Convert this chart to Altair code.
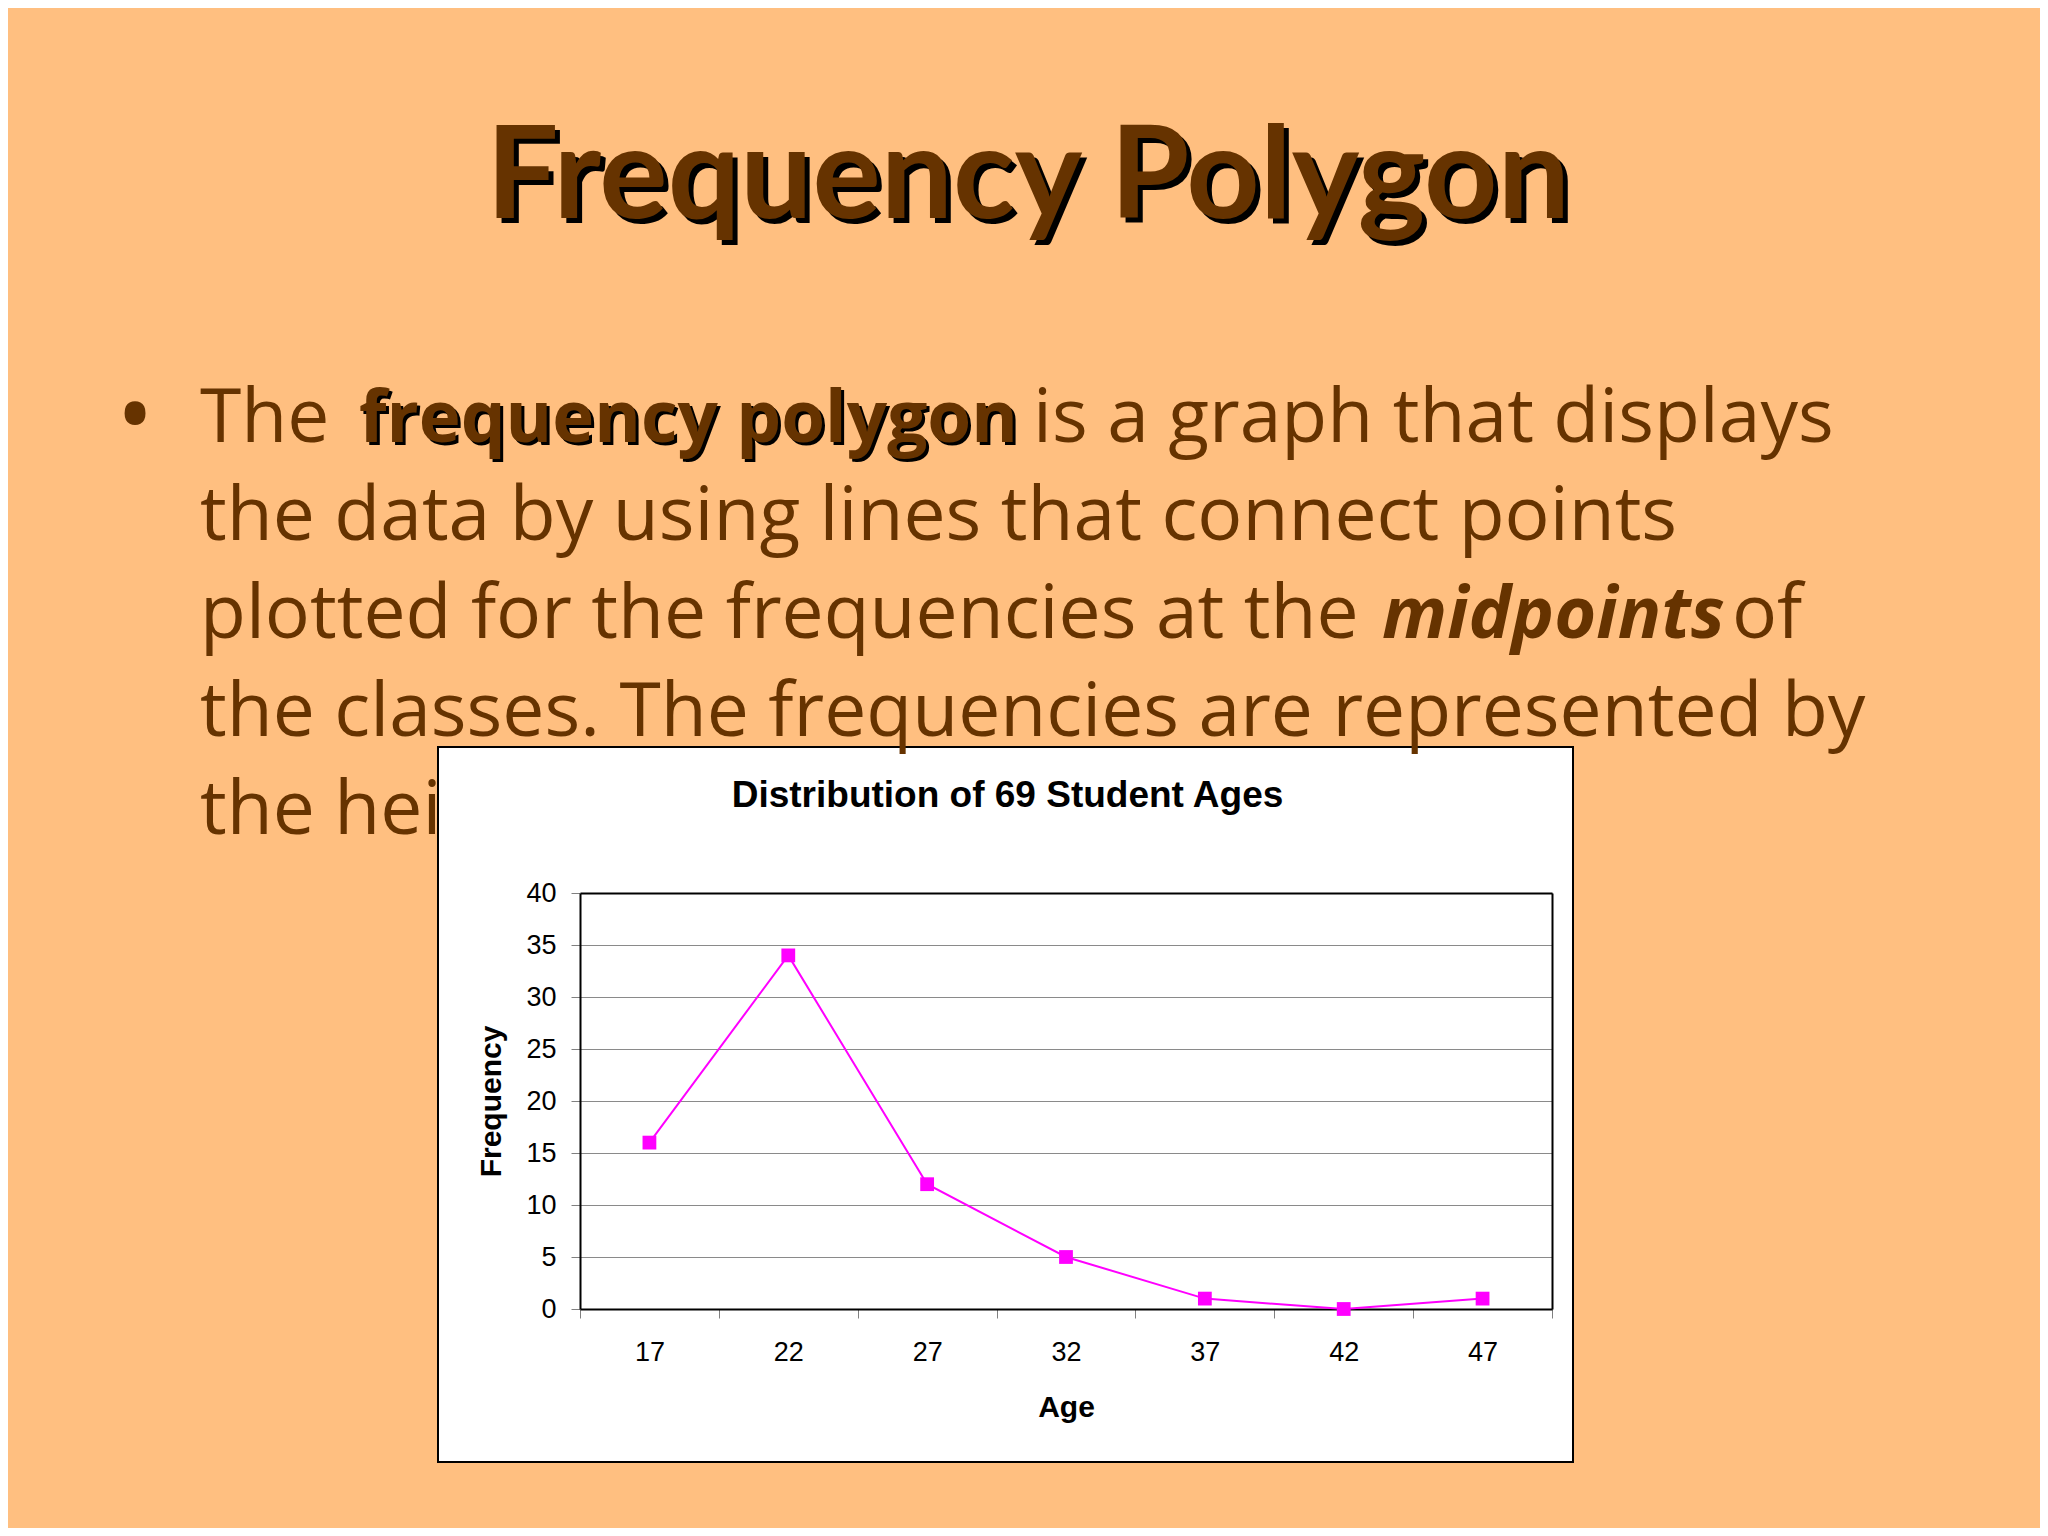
import altair as alt
import pandas as pd

# ---- data ----
ages = ["17", "22", "27", "32", "37", "42", "47"]
freqs = [16, 34, 12, 5, 1, 0, 1]
y_ticks = [0, 5, 10, 15, 20, 25, 30, 35, 40]

slide_title = "Frequency Polygon"
chart_title = "Distribution of 69 Student Ages"
x_title = "Age"
y_title = "Frequency"
bullet = "\u2022"
line1 = ["The", "frequency polygon", "is a graph that displays"]
line2 = "the data by using lines that connect points"
line3 = ["plotted for the frequencies at the", "midpoints", "of"]
line4 = "the classes. The frequencies are represented by"
line5 = "the heights of the points."

df = pd.DataFrame({"Age": ages, "Frequency": freqs})

BG = "#FFBF80"
BROWN = "#663300"
MAG = "#FF00FF"
SANS = "Liberation Sans"
TITLE_FONT = "Lato"
BODY_FONT = "Open Sans"
BODY_SIZE = 75

# box (group) geometry
BOX_W, BOX_H = 1135, 715
PX0, PX1 = 142, 1114   # plot x range inside box
PY0, PY1 = 146, 562    # plot y range inside box (top, bottom)

x_enc = alt.X(
    "Age:N", sort=ages,
    scale=alt.Scale(range=[PX0, PX1], paddingInner=0, paddingOuter=0),
    axis=alt.Axis(
        orient="bottom", offset=-(BOX_H - PY1), tickBand="extent",
        domainColor="black", domainWidth=2,
        tickColor="#808080", tickWidth=1, tickSize=9,
        labelFont=SANS, labelFontSize=27, labelColor="black", labelAngle=0,
        labelPadding=21, grid=False,
        title=x_title, titleFont=SANS, titleFontSize=30, titleFontWeight="bold",
        titleColor="black", titleY=107, titleBaseline="alphabetic",
    ),
)
y_enc = alt.Y(
    "Frequency:Q",
    scale=alt.Scale(domain=[0, 40], range=[PY1, PY0], nice=False, zero=True),
    axis=alt.Axis(
        orient="left", offset=-PX0, values=y_ticks,
        grid=True, gridColor="#8a8a8a", gridWidth=1,
        domainColor="black", domainWidth=2,
        tickColor="#808080", tickWidth=1, tickSize=9,
        labelFont=SANS, labelFontSize=27, labelColor="black", labelPadding=15,
        title=y_title, titleFont=SANS, titleFontSize=30, titleFontWeight="bold",
        titleColor="black", titleAngle=270, titleX=-80, titleBaseline="alphabetic",
    ),
)

line = alt.Chart(df).mark_line(color=MAG, strokeWidth=2).encode(x=x_enc, y=y_enc)

x_top = alt.X("Age:N", sort=ages, axis=alt.Axis(
    orient="top", offset=-PY0, domain=True, domainColor="black", domainWidth=2,
    ticks=False, labels=False, grid=False, title=None))
y_right = alt.Y("Frequency:Q", axis=alt.Axis(
    orient="right", offset=-(BOX_W - PX1), domain=True, domainColor="black",
    domainWidth=2, ticks=False, labels=False, grid=False, title=None))
points = alt.Chart(df).mark_square(size=190, color=MAG, opacity=1, filled=True).encode(
    x=x_top, y=y_right)


def txt(s, x, y, size, color, font=BODY_FONT, weight="normal", style="normal",
        align="left", baseline="alphabetic", **kw):
    return alt.Chart(pd.DataFrame({"t": [s]})).mark_text(
        font=font, fontSize=size, fontWeight=weight, fontStyle=style,
        color=color, align=align, baseline=baseline, **kw
    ).encode(text="t:N", x=alt.value(x), y=alt.value(y))


OX, OY = 438, 747  # page position of the box's top-left
def gx(px):
    return px - OX
def gy(py):
    return py - OY

texts = []
# slide title with shadow
texts.append(txt(slide_title, gx(1028) + 5, gy(218) + 5, 128, "black",
                 font=TITLE_FONT, weight="bold", align="center"))
texts.append(txt(slide_title, gx(1028), gy(218), 128, BROWN,
                 font=TITLE_FONT, weight="bold", align="center"))
# bullet
texts.append(txt(bullet, gx(135), gy(420), 100, BROWN, align="center", baseline="middle"))
# line 1
b1, lh = 442, 98
texts.append(txt(line1[0], gx(200), gy(b1), BODY_SIZE, BROWN))
texts.append(txt(line1[1], gx(359) + 3, gy(b1) + 3, 71, "black", weight="bold"))
texts.append(txt(line1[1], gx(359), gy(b1), 71, BROWN, weight="bold"))
texts.append(txt(line1[2], gx(1033), gy(b1), BODY_SIZE, BROWN))
# line 2
texts.append(txt(line2, gx(200), gy(b1 + lh), BODY_SIZE, BROWN))
# line 3
texts.append(txt(line3[0], gx(200), gy(b1 + 2 * lh), BODY_SIZE, BROWN))
texts.append(txt(line3[1], gx(1382), gy(b1 + 2 * lh), 72, BROWN, weight="bold", style="italic"))
texts.append(txt(line3[2], gx(1732), gy(b1 + 2 * lh), BODY_SIZE, BROWN))
# line 4
texts.append(txt(line4, gx(200), gy(b1 + 3 * lh), BODY_SIZE, BROWN))
# line 5 (runs behind the chart box)
texts.append(txt(line5, gx(200), gy(b1 + 4 * lh), BODY_SIZE, BROWN,
                 limit=OX - 200 + 6, ellipsis="\u200b"))
# chart title
texts.append(txt(chart_title, 569.5, 60, 37, "black", font=SANS, weight="bold", align="center"))

chart = alt.layer(line, points, *texts).resolve_axis(
    x="independent", y="independent"
).properties(
    width=BOX_W, height=BOX_H,
    autosize=alt.AutoSizeParams(type="none"),
    padding={"left": 430, "top": 739, "right": 2032 - 430 - BOX_W, "bottom": 1520 - 739 - BOX_H},
).configure(background=BG).configure_view(fill="white", stroke="black", strokeWidth=2)

chart.save("out.html", embed_options={"renderer": "svg", "actions": False})
